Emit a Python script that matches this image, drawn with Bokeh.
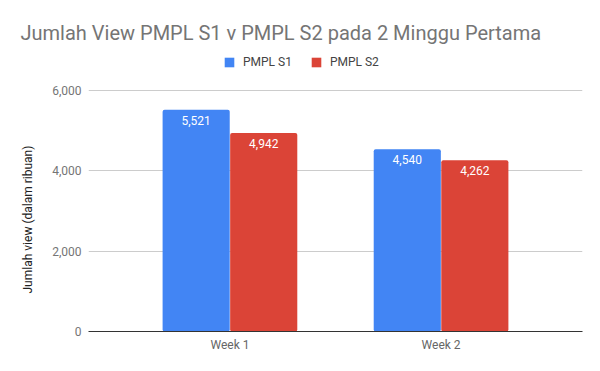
from bokeh.plotting import figure
from bokeh.models import (ColumnDataSource, FactorRange, Range1d, LabelSet, Title,
                          Legend, LegendItem, NumeralTickFormatter, FixedTicker)
from bokeh.transform import dodge
from bokeh.embed import file_html
from bokeh.resources import INLINE
from bokeh.core.properties import value

# ---- data ----
weeks = ["Week 1", "Week 2"]
s1_values = [5521, 4540]
s2_values = [4942, 4262]
series_names = ["PMPL S1", "PMPL S2"]
series_colors = ["#4285F4", "#DB4437"]
y_ticks = [0, 2000, 4000, 6000]
y_max = 6000
title_text = "Jumlah View PMPL S1 v PMPL S2 pada 2 Minggu Pertama"
y_label = "Jumlah view (dalam ribuan)"

FONT = "Roboto"

src = ColumnDataSource(dict(
    week=weeks,
    s1=s1_values,
    s2=s2_values,
    s1_lbl=[f"{v:,}" for v in s1_values],
    s2_lbl=[f"{v:,}" for v in s2_values],
))

# frame: top at 50px, the 0..6000 region occupies 90px..331px
FRAME_TOP = 50
PLOT_TOP = 90
PLOT_BOTTOM = 331
y_end = y_max * (PLOT_BOTTOM - FRAME_TOP) / (PLOT_BOTTOM - PLOT_TOP)

p = figure(width=592, height=363,
           x_range=FactorRange(*weeks, range_padding=0.17, range_padding_units="absolute"),
           y_range=Range1d(0, y_end),
           output_backend="svg", toolbar_location=None,
           min_border_left=88, min_border_right=10, min_border_top=FRAME_TOP,
           min_border_bottom=32)
p.outline_line_color = None
p.background_fill_color = "white"
p.border_fill_color = "white"

bw = 0.318
off = 0.160
r1 = p.vbar(x=dodge("week", -off, range=p.x_range), top="s1", width=bw, source=src,
            fill_color=series_colors[0], line_color=None, border_radius=2)
r2 = p.vbar(x=dodge("week", off, range=p.x_range), top="s2", width=bw, source=src,
            fill_color=series_colors[1], line_color=None, border_radius=2)

for fld, lbl, dx in (("s1", "s1_lbl", -off), ("s2", "s2_lbl", off)):
    ls = LabelSet(x=dodge("week", dx, range=p.x_range), y=fld, text=lbl, source=src,
                  text_align="center", text_baseline="top", y_offset=-6,
                  text_color="white", text_font=value(FONT), text_font_size="12px")
    p.add_layout(ls)

# axes
p.yaxis.ticker = FixedTicker(ticks=y_ticks)
p.yaxis.formatter = NumeralTickFormatter(format="0,0")
p.yaxis.axis_line_color = None
p.yaxis.major_tick_line_color = None
p.yaxis.minor_tick_line_color = None
p.yaxis.major_tick_out = 0
p.yaxis.minor_tick_out = 0
p.yaxis.major_label_standoff = 7
p.yaxis.major_label_text_font = FONT
p.yaxis.major_label_text_font_size = "12px"
p.yaxis.major_label_text_color = "#757575"

p.xaxis.axis_line_color = "#333333"
p.xaxis.major_tick_line_color = None
p.xaxis.minor_tick_line_color = None
p.xaxis.major_tick_out = 0
p.xaxis.minor_tick_out = 0
p.xaxis.major_label_standoff = 6
p.xaxis.major_label_text_font = FONT
p.xaxis.major_label_text_font_size = "12px"
p.xaxis.major_label_text_color = "#666666"

p.xgrid.grid_line_color = None
p.ygrid.grid_line_color = "#cccccc"

# y axis title (as a side title so it can be centred on the 0..6000 region)
ytitle = Title(text=y_label, align="left", offset=38, text_font=FONT,
               text_font_size="12px", text_font_style="normal", text_color="#222222",
               standoff=30)
p.add_layout(ytitle, "left")

# chart title
p.title.text = title_text
p.title.text_font = FONT
p.title.text_font_size = "20px"
p.title.text_font_style = "normal"
p.title.text_color = "#757575"
p.title.align = "left"
p.title.offset = -68
p.title.standoff = 11

legend = Legend(items=[LegendItem(label=series_names[0], renderers=[r1]),
                       LegendItem(label=series_names[1], renderers=[r2])],
                orientation="horizontal", location=(135, 262),
                padding=0, margin=0, spacing=18, label_standoff=8,
                glyph_width=12, glyph_height=12, label_height=12,
                label_text_font=FONT, label_text_font_size="12px",
                label_text_color="#444444",
                border_line_color=None, background_fill_alpha=0)
p.add_layout(legend)

open("out.html", "w").write(file_html(p, INLINE))
